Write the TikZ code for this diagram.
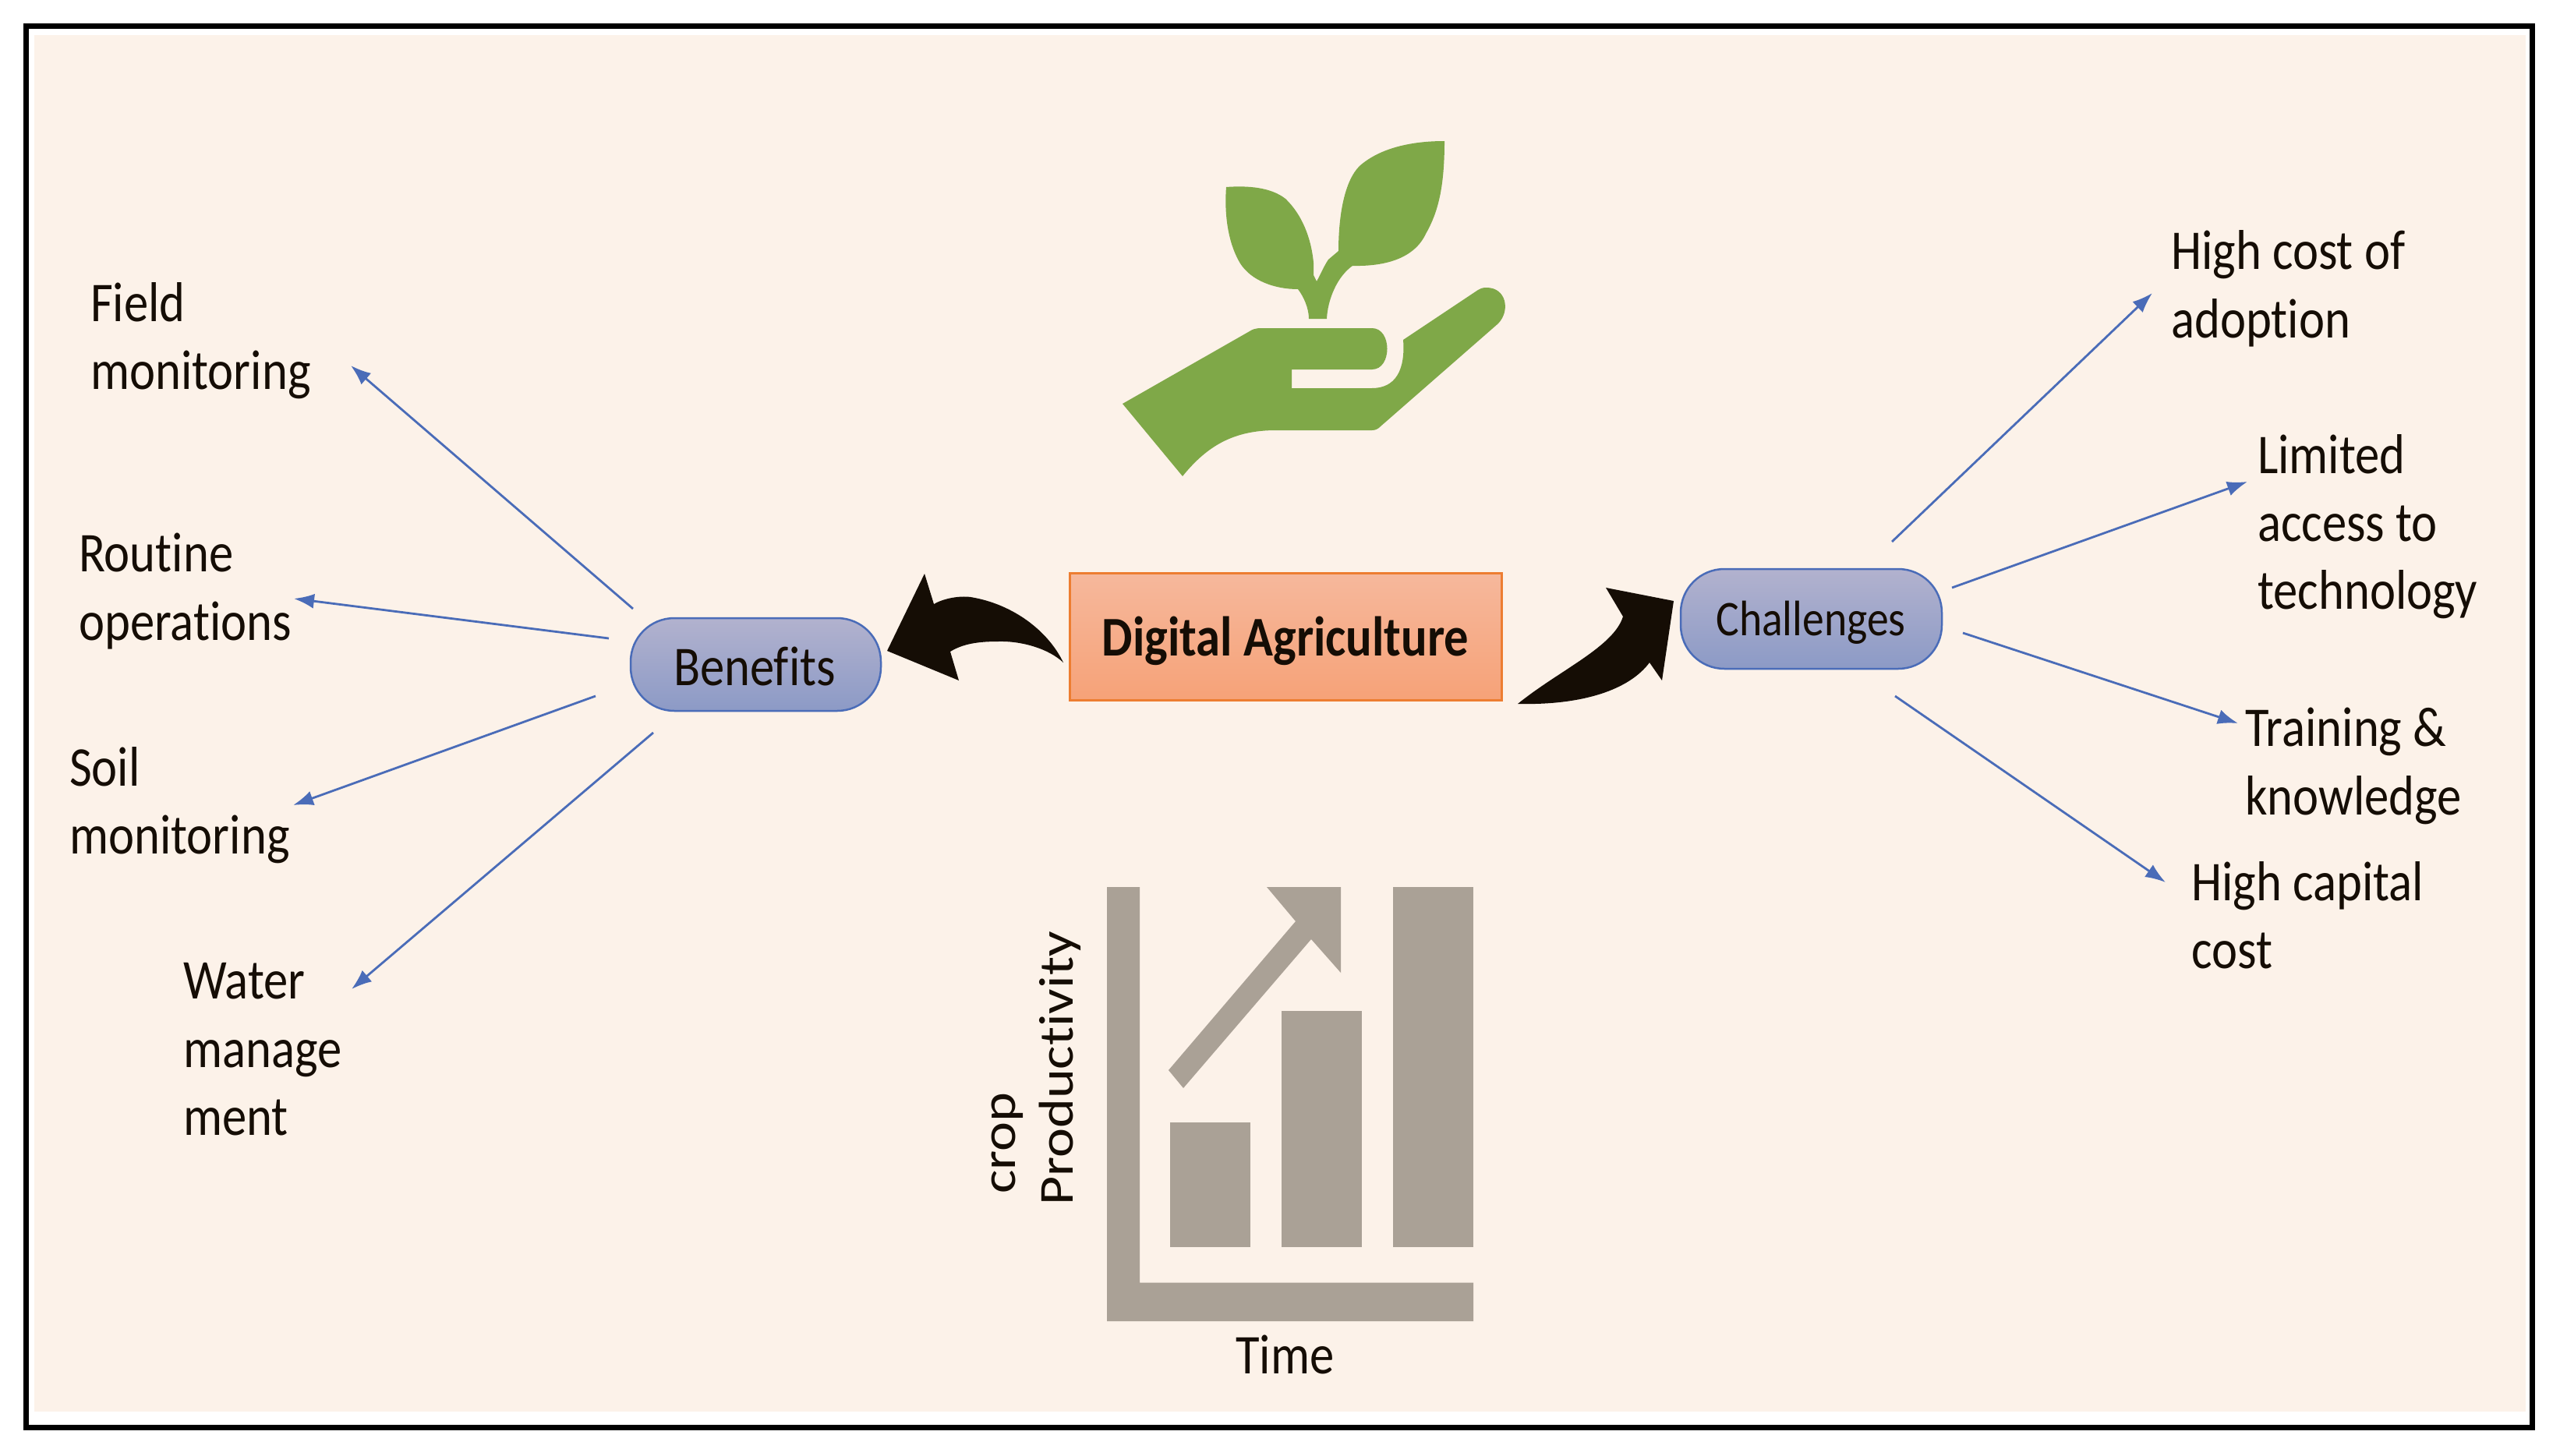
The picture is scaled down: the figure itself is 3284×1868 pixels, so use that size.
\documentclass[tikz,border=0pt]{standalone}
\usepackage{fontspec}
\setmainfont[FakeStretch=0.87,Ligatures=NoCommon]{Carlito}
\newfontfamily\plainfont[Ligatures=NoCommon]{Carlito}
\usetikzlibrary{arrows.meta}
\definecolor{bgc}{HTML}{FCF2E9}
\definecolor{leaf}{HTML}{7FA848}
\definecolor{chartc}{HTML}{AAA196}
\definecolor{inkc}{HTML}{150D05}
\definecolor{linkc}{HTML}{4A6CB8}
\definecolor{pilltop}{HTML}{B2B2CE}
\definecolor{pillbot}{HTML}{8C9AC6}
\definecolor{boxtop}{HTML}{F6B89C}
\definecolor{boxbot}{HTML}{F6A278}
\definecolor{boxedge}{HTML}{ED7D31}
\tikzset{x=1pt,y=-1pt,
 pillshape/.style={rounded corners=56pt,draw=linkc,line width=2.5pt,top color=pilltop,bottom color=pillbot},
 lab/.style={font=\fontsize{72}{88}\selectfont,align=left,anchor=base west,inner sep=0pt,text=inkc},
 sidelab/.style={font=\plainfont\fontsize{72}{88}\selectfont,anchor=base west,inner sep=0pt,text=inkc,rotate=90},
 link/.style={draw=linkc,line width=2.8pt,-{Latex[length=26pt,width=19pt]}},
 swoosh/.style={fill=inkc,draw=none},
 leafc/.style={fill=leaf,draw=none},
 barc/.style={fill=chartc,draw=none}}
\begin{document}
\begin{tikzpicture}
\useasboundingbox (0,0) rectangle (3284,1868);
\fill[white] (0,0) rectangle (3284,1868);
\draw[black,line width=7pt] (33.5,33.5) rectangle (3248.5,1831.5);
\fill[bgc] (44,45) rectangle (3240,1811);
% plant
\fill[leafc] (1853,181) .. controls (1810,181) and (1770,190) .. (1744,213) .. controls (1725,232) and (1717,275) .. (1717,322)
 -- (1704,333) .. controls (1698,342) and (1695,350) .. (1689,361) -- (1685,353) -- (1685,337)
 .. controls (1682,305) and (1670,275) .. (1649,255) .. controls (1630,240) and (1600,238) .. (1573,240)
 .. controls (1570,280) and (1577,315) .. (1591,338) .. controls (1605,360) and (1635,371) .. (1665,371)
 .. controls (1672,380) and (1679,395) .. (1679,409)
 -- (1702,409) .. controls (1703,385) and (1715,355) .. (1735,341) .. controls (1780,342) and (1815,330) .. (1829,300)
 .. controls (1845,272) and (1853,240) .. (1853,181) -- cycle;
% hand
\fill[leafc] (1440,518) -- (1517,611) .. controls (1550,570) and (1585,552) .. (1637,552) -- (1760,552) .. controls (1765,552) and (1768,550) .. (1771,547)
 -- (1922,415) .. controls (1938,398) and (1932,369) .. (1907,369) .. controls (1902,369) and (1899,370) .. (1896,372)
 -- (1800,436) .. controls (1803,475) and (1790,498) .. (1760,498) -- (1657,498) -- (1657,474) -- (1760,474)
 .. controls (1786,474) and (1786,421) .. (1760,421) -- (1618,421) .. controls (1610,421) and (1606,423) .. (1603,425) -- cycle;
% chart
\fill[barc] (1420,1138) -- (1462,1138) -- (1462,1645.5) -- (1890,1645.5) -- (1890,1695) -- (1420,1695) -- cycle;
\fill[barc] (1501,1440) rectangle (1604,1600);
\fill[barc] (1644,1297) rectangle (1747,1600);
\fill[barc] (1787,1138) rectangle (1890,1600);
\fill[barc] (1625,1138) -- (1720,1138) -- (1720,1248) -- (1682,1205) -- (1518,1396) -- (1499,1373) -- (1662,1182) -- cycle;
\node[sidelab] (crop) at (1302,1532) {\scalebox{1}[0.87]{crop}};
\node[sidelab] (prod) at (1376,1547) {\scalebox{1}[0.87]{Productivity}};
\node[lab] (time) at (1585,1762) {Time};
% central box and pills
\node[draw=boxedge,line width=3pt,top color=boxtop,bottom color=boxbot,minimum width=554pt,minimum height=163pt,inner sep=0pt] (da) at (1649,816.5) {};
\node[font=\fontsize{72}{80}\selectfont\bfseries,text=inkc,anchor=base,inner sep=0pt] (dat) at (1649,841) {Digital Agriculture};
\path[pillshape] (809,793) rectangle (1130,912);
\path[pillshape] (2156,730) rectangle (2491,858);
\node[lab,anchor=base] (ben) at (968,879) {Benefits};
\node[font=\fontsize{64}{80}\selectfont,text=inkc,anchor=base,inner sep=0pt] (cha) at (2323,815) {Challenges};
% swooshes
\fill[swoosh] (1186,736) -- (1198,775) .. controls (1210,768) and (1230,764) .. (1245,766) .. controls (1300,775) and (1345,810) .. (1364,850)
 .. controls (1345,832) and (1310,822) .. (1280,823) .. controls (1255,823) and (1235,826) .. (1219,836) -- (1230,873) -- (1138,835) -- cycle;
\fill[swoosh] (1947,903) .. controls (2000,860) and (2070,830) .. (2082,791) -- (2060,754) -- (2147,771) -- (2132,873) -- (2116,850)
 .. controls (2090,885) and (2030,905) .. (1947,903) -- cycle;
% labels
\node[lab] (field) at (116,412) {Field};
\node[lab] (fieldb) at (116,499) {monitoring};
\node[lab] (routine) at (101,733) {Routine};
\node[lab] (routineb) at (101,821) {operations};
\node[lab] (soil) at (89,1008) {Soil};
\node[lab] (soilb) at (89,1095) {monitoring};
\node[lab] (water) at (235,1281) {Water};
\node[lab] (waterb) at (235,1369) {manage};
\node[lab] (waterc) at (235,1456) {ment};
\node[lab] (hc) at (2785,345) {High cost of};
\node[lab] (hcb) at (2785,433) {adoption};
\node[lab] (lim) at (2896,607) {Limited};
\node[lab] (limb) at (2896,694) {access to};
\node[lab] (limc) at (2896,781) {technology};
\node[lab] (tr) at (2880,957) {Training \&};
\node[lab] (trb) at (2880,1045) {knowledge};
\node[lab] (cap) at (2811,1155) {High capital};
\node[lab] (capb) at (2811,1242) {cost};
% connectors
\coordinate (b1) at (812,781); \coordinate (b1e) at (450,469);
\coordinate (b2) at (781,819); \coordinate (b2e) at (377,768);
\coordinate (b3) at (764,893); \coordinate (b3e) at (376,1033);
\coordinate (b4) at (838,940); \coordinate (b4e) at (451,1269);
\coordinate (c1) at (2427,695); \coordinate (c1e) at (2761,376);
\coordinate (c2) at (2504,754); \coordinate (c2e) at (2883,618);
\coordinate (c3) at (2518,812); \coordinate (c3e) at (2871,928);
\coordinate (c4) at (2431,893); \coordinate (c4e) at (2778,1132);
\foreach \p/\q in {b1/b1e,b2/b2e,b3/b3e,b4/b4e,c1/c1e,c2/c2e,c3/c3e,c4/c4e}
  \draw[link] (\p) -- (\q);
\end{tikzpicture}
\end{document}
